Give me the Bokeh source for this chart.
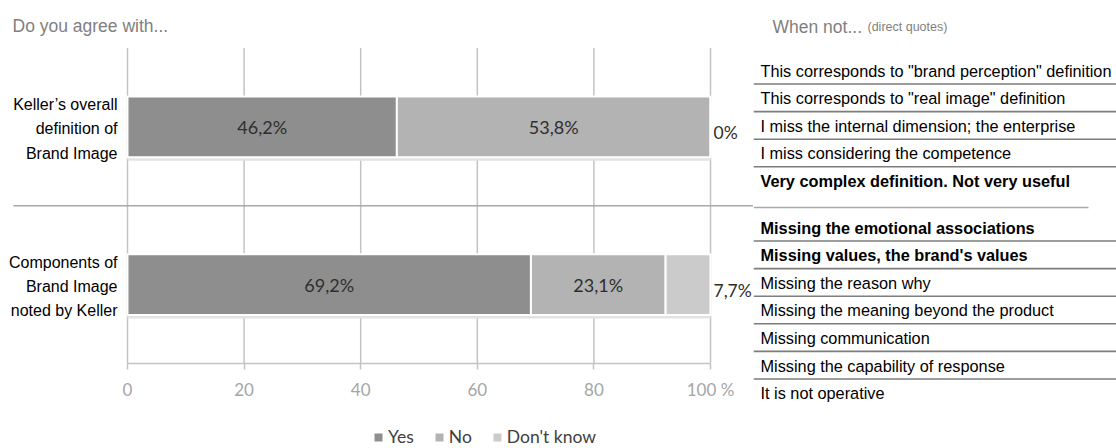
from bokeh.plotting import figure
from bokeh.layouts import column, row
from bokeh.models import ColumnDataSource, FixedTicker, Range1d
from bokeh.core.properties import value
from bokeh.transform import dodge
from bokeh.embed import file_html
from bokeh.resources import INLINE

# ---- data -------------------------------------------------------------
categories = ["Keller\u2019s overall\ndefinition of\nBrand Image",
              "Components of\nBrand Image\nnoted by Keller"]
yes = [46.2, 69.2]
no = [53.8, 23.1]
dont_know = [0.0, 7.7]
series = ["Yes", "No", "Don't know"]
ticks = [0, 20, 40, 60, 80, 100]

quotes_overall = [
    "This corresponds to \"brand perception\" definition",
    "This corresponds to \"real image\" definition",
    "I miss the internal dimension; the enterprise",
    "I miss considering the competence",
    "Very complex definition. Not very useful",
]
bold_overall = [False, False, False, False, True]

quotes_components = [
    "Missing the emotional associations",
    "Missing values, the brand's values",
    "Missing the reason why",
    "Missing the meaning beyond the product",
    "Missing communication",
    "Missing the capability of response",
    "It is not operative",
]
bold_components = [True, True, False, False, False, False, False]

# ---- styling / layout -------------------------------------------------
COLORS = ["#8e8e8e", "#b3b3b3", "#cbcbcb"]
SHADOW = "#e3e3e3"
GRID = "#c3c3c3"
RULE = "#a8a8a8"
SANS = "Liberation Sans"
NUM = "Lato"

W, H = 1116, 448
CHART_W = 753               # chart block; the quote table sits to its right
QUOTE_W = W - CHART_W
PLOT_H, LEGEND_H = 402, 46
AXIS_H = 36                 # space kept under the frame for the x axis
BAR_LEFT, BAR_RIGHT = 127, 710
BAND = 159                  # pixel height of one category band
HEAD = 48                   # room above the first band for headings
SEP_Y = HEAD + BAND         # rule between the two questions
BAR_H = 0.385

XS = (BAR_RIGHT - BAR_LEFT) / 100.0
n = len(categories)
top_band = -0.5 - HEAD / BAND


def xpx(px):
    """pixel column -> x data value"""
    return (px - BAR_LEFT) / XS


def ypx(py):
    """pixel row -> y data value (category index units, growing down)"""
    return top_band + py / BAND


def pct(v):
    return "0%" if v == 0 else f"{v:.1f}".replace(".", ",") + "%"


def bare(fig):
    fig.outline_line_color = None
    fig.background_fill_color = "white"
    fig.border_fill_color = "white"
    fig.grid.grid_line_color = None


# ======================================================================
# chart
# ======================================================================
p = figure(width=CHART_W, height=PLOT_H,
           x_range=Range1d(xpx(0), xpx(CHART_W)),
           y_range=Range1d(n - 0.5, top_band),
           output_backend="svg", toolbar_location=None,
           y_axis_location=None, min_border=0, min_border_bottom=AXIS_H)
bare(p)

idx = list(range(n))
totals = [a + b + d for a, b, d in zip(yes, no, dont_know)]

# vertical grid lines across the category bands
p.segment(x0=ticks, x1=ticks, y0=[-0.5] * len(ticks), y1=[n - 0.5] * len(ticks),
          line_color=GRID, line_width=1.5)

# separator between the two questions
p.segment(x0=[xpx(13)], x1=[xpx(CHART_W)], y0=[0.5], y1=[0.5],
          line_color=RULE, line_width=1.5)

# stacked bars with a soft drop shadow
src = ColumnDataSource(dict(y=idx, yes=yes, no=no, dk=dont_know, total=totals))
p.hbar(y=dodge("y", 3.5 / BAND, range=p.y_range), left=0, right="total",
       height=BAR_H, color=SHADOW, line_color=None, source=src)
p.hbar_stack(["yes", "no", "dk"], y="y", height=BAR_H, color=COLORS,
             line_color="white", line_width=2, source=src)

# x axis
ax = p.xaxis[0]
ax.bounds = (0, 100)
ax.ticker = FixedTicker(ticks=ticks)
ax.major_label_overrides = {100: "100 %"}
ax.axis_line_color = GRID
ax.axis_line_width = 1.5
ax.major_tick_line_color = GRID
ax.major_tick_line_width = 1.5
ax.major_tick_out = 6
ax.major_tick_in = 0
ax.minor_tick_line_color = None
ax.major_label_text_font = NUM
ax.major_label_text_font_size = "17px"
ax.major_label_text_color = "#a6a6a6"
ax.major_label_standoff = 9

# category labels
p.text(x=[0] * n, y=idx, text=categories, x_offset=-10, y_offset=2,
       text_align="right", text_baseline="middle", text_line_height=1.42,
       text_font=value(SANS), text_font_size="16px", text_color="#000000")

# value labels inside the bars
in_x, in_y, in_t = [], [], []
for i, (a, b) in enumerate(zip(yes, no)):
    in_x += [a / 2, a + b / 2]
    in_y += [i, i]
    in_t += [pct(a), pct(b)]
p.text(x=in_x, y=in_y, text=in_t, text_align="center", text_baseline="middle",
       text_font=value(NUM), text_font_size="18px", text_color="#2e2e2e")

# "don't know" shares next to the bar ends
p.text(x=totals, y=idx, text=[pct(d) for d in dont_know], x_offset=3, y_offset=6,
       text_align="left", text_baseline="middle",
       text_font=value(NUM), text_font_size="17.5px", text_color="#2e2e2e")

p.text(x=[xpx(12)], y=[ypx(26)], text=["Do you agree with..."],
       text_font=value(SANS), text_font_size="17.5px", text_color="#7f7f7f",
       text_baseline="alphabetic")

# ======================================================================
# legend strip under the chart
# ======================================================================
pl = figure(width=CHART_W, height=LEGEND_H, x_range=Range1d(0, 1),
            y_range=Range1d(0, 1), output_backend="svg", toolbar_location=None,
            min_border=0, x_axis_location=None, y_axis_location=None)
bare(pl)
for s, c in zip(series, COLORS):
    # swatch holders, kept outside the visible range
    pl.hbar(y=[-5], left=[0], right=[1], height=1, color=c, line_color=None,
            legend_label=s)
lg = pl.legend[0]
lg.orientation = "horizontal"
lg.location = (373, 1)
lg.border_line_color = None
lg.background_fill_alpha = 0
lg.padding = 0
lg.margin = 0
lg.spacing = 20
lg.glyph_width = 10
lg.glyph_height = 10
lg.label_standoff = 5
lg.label_height = 10
lg.label_text_font = NUM
lg.label_text_font_size = "17.5px"
lg.label_text_color = "#404040"

# ======================================================================
# quote table to the right
# ======================================================================
pq = figure(width=QUOTE_W, height=H, x_range=Range1d(CHART_W, W),
            y_range=Range1d(H, 0), output_backend="svg", toolbar_location=None,
            min_border=0, x_axis_location=None, y_axis_location=None)
bare(pq)

pq.segment(x0=[CHART_W], x1=[1088], y0=[SEP_Y], y1=[SEP_Y],
           line_color=RULE, line_width=1.5)

pq.text(x=[772], y=[26], text=["When not..."],
        text_font=value(SANS), text_font_size="17.5px", text_color="#7f7f7f",
        text_baseline="alphabetic")
pq.text(x=[867], y=[26], text=["(direct quotes)"],
        text_font=value(SANS), text_font_size="12.5px", text_color="#7f7f7f",
        text_baseline="alphabetic")

PITCH = 27.6
TEXT_X, RULE_X = 760, 753


def quote_table(quotes, bold, first_center):
    rows = [first_center + i * PITCH for i in range(len(quotes))]
    pq.text(x=[TEXT_X] * len(quotes), y=rows, text=quotes,
            text_font_style=["bold" if b else "normal" for b in bold],
            text_align="left", text_baseline="middle",
            text_font=value(SANS), text_font_size="16.3px", text_color="#000000")
    lines = [r + 13.5 for r in rows[:-1]]
    pq.segment(x0=[RULE_X] * len(lines), x1=[W] * len(lines),
               y0=lines, y1=lines, line_color="#7d7d7d", line_width=1.6)


quote_table(quotes_overall, bold_overall, 70)
quote_table(quotes_components, bold_components, 227)

layout = row(column(p, pl, spacing=0), pq, spacing=0)
open("out.html", "w").write(file_html(layout, INLINE))
